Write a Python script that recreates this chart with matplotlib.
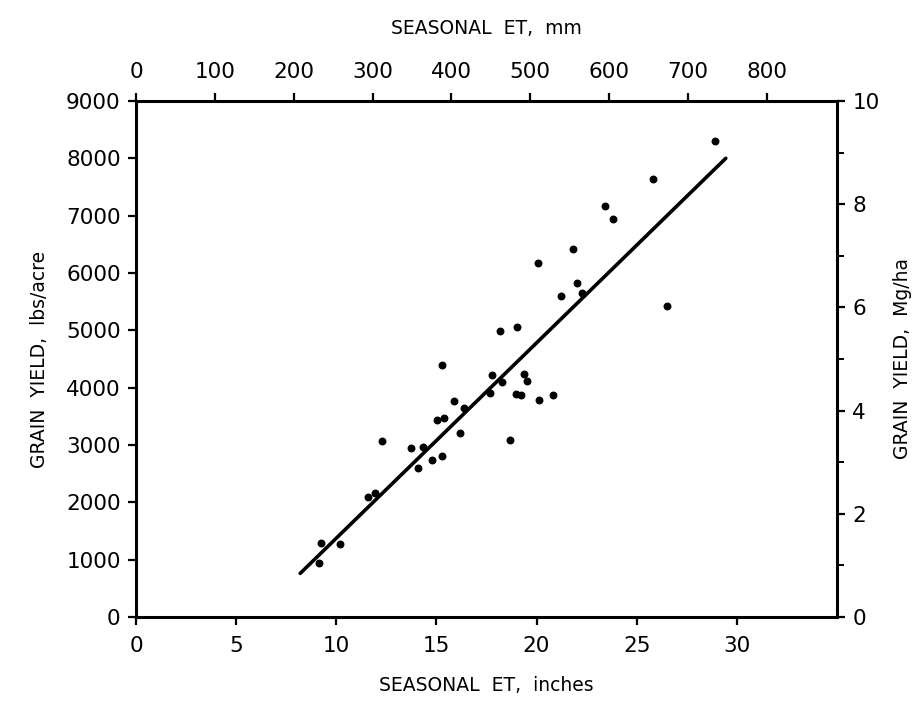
import numpy as np
import matplotlib.pyplot as plt
from matplotlib.ticker import MultipleLocator

# seasonal ET (inches) and grain yield (lbs/acre)
et_in = [9.15, 9.22, 10.18, 11.57, 11.92, 12.28, 13.75, 14.08, 14.33, 14.8,
         15.05, 15.28, 15.3, 15.38, 15.9, 16.17, 16.37, 17.7, 17.8, 18.17,
         18.3, 18.67, 18.97, 19.0, 19.2, 19.37, 19.5, 20.07, 20.13, 20.83,
         21.2, 21.8, 22.03, 22.28, 23.4, 23.8, 25.8, 26.5, 28.9]
yield_lbs = [940, 1290, 1280, 2100, 2170, 3070, 2950, 2600, 2960, 2730,
             3440, 2800, 4400, 3465, 3760, 3210, 3640, 3910, 4215, 4995,
             4105, 3090, 3885, 5065, 3870, 4240, 4115, 6175, 3780, 3865,
             5590, 6420, 5825, 5655, 7160, 6945, 7645, 5425, 8305]

# regression line end points
line_x = [8.2, 29.45]
line_y = [760, 8000]

plt.rcParams['font.family'] = 'DejaVu Sans'

fig = plt.figure(figsize=(9.15, 7.09), dpi=100)
ax = fig.add_axes([0.1486, 0.1298, 0.7661, 0.7278])

ax.scatter(et_in, yield_lbs, s=22, c='black', zorder=3)
ax.plot(line_x, line_y, color='black', lw=2.6, solid_capstyle='round')

ax.set_xlim(0, 35)
ax.set_ylim(0, 9000)
ax.set_xticks(range(0, 31, 5))
ax.set_yticks(range(0, 9001, 1000))

for s in ax.spines.values():
    s.set_linewidth(2.2)

ax.tick_params(direction='out', length=6, width=1.6, labelsize=15.5)
ax.tick_params(axis='x', pad=8)
ax.tick_params(axis='y', pad=5)
ax.set_xlabel('SEASONAL  ET,  inches', fontsize=13.5, labelpad=14)
ax.set_ylabel('GRAIN  YIELD,  lbs/acre', fontsize=13.5, labelpad=12)

top = ax.secondary_xaxis('top', functions=(lambda x: x * 25.4, lambda m: m / 25.4))
top.set_xticks(range(0, 801, 100))
top.tick_params(direction='out', length=6, width=1.6, labelsize=15.5, pad=8)
top.set_xlabel('SEASONAL  ET,  mm', fontsize=13.5, labelpad=20)

right = ax.secondary_yaxis('right', functions=(lambda y: y / 900, lambda m: m * 900))
right.set_yticks(range(0, 11, 2))
right.yaxis.set_minor_locator(MultipleLocator(1))
right.tick_params(which='major', direction='out', length=6, width=1.6, labelsize=15.5, pad=5)
right.tick_params(which='minor', direction='out', length=5, width=1.4)
right.set_ylabel('GRAIN  YIELD,  Mg/ha', fontsize=13.5, labelpad=10)

fig.savefig('out.png', dpi=100)
